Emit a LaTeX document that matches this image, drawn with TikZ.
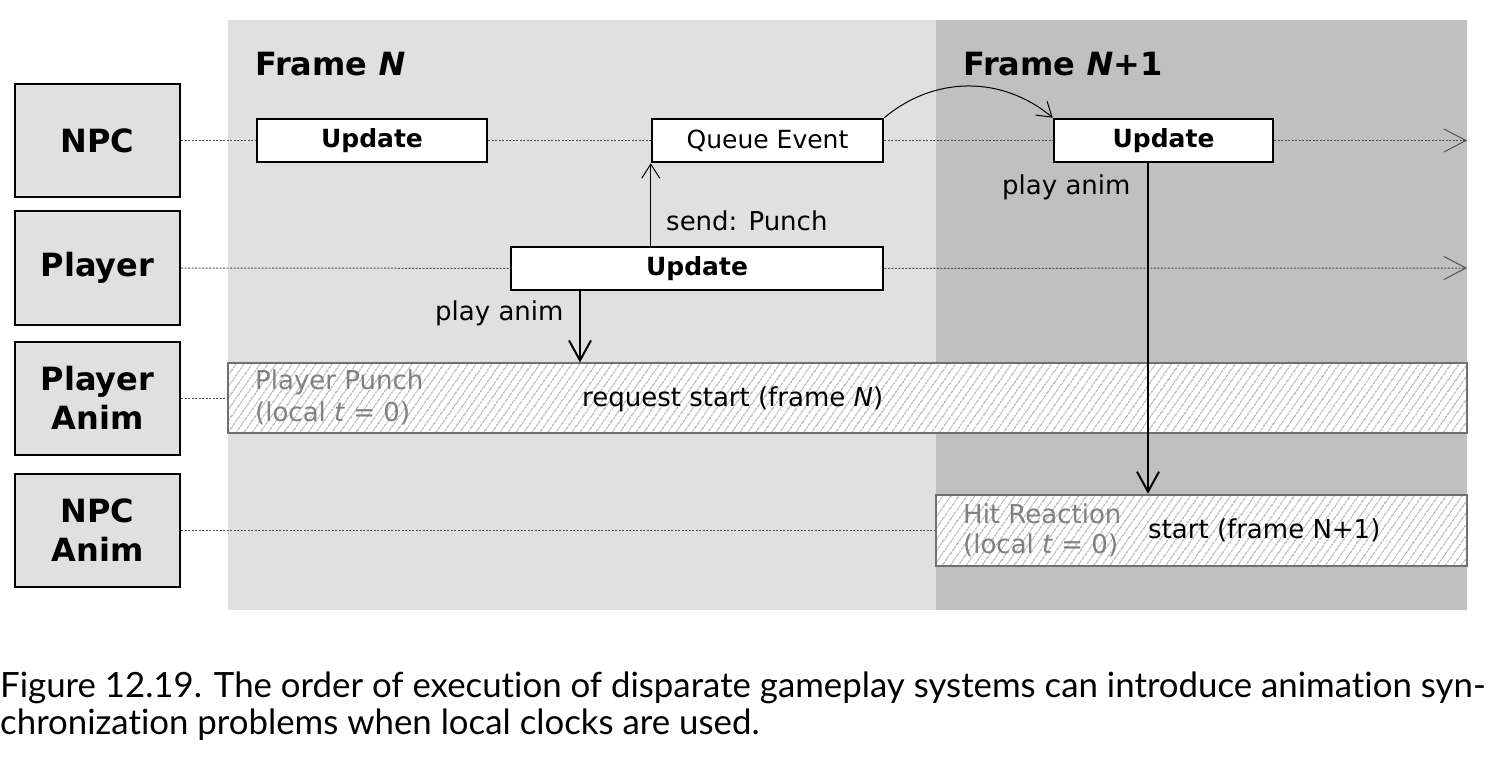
\documentclass[tikz,border=0pt]{standalone}
\usepackage{fontspec}
\setmainfont{DejaVu Sans}
\newfontfamily\capfont[Ligatures=NoCommon]{Lato}
\usetikzlibrary{arrows.meta,patterns.meta}

\definecolor{frameA}{RGB}{224,224,224}
\definecolor{frameB}{RGB}{192,192,192}
\definecolor{animtxt}{RGB}{128,128,128}
\definecolor{animedge}{RGB}{112,112,112}
\definecolor{hatch}{RGB}{175,175,175}
\definecolor{laneln}{RGB}{80,80,80}

\tikzset{
	lane/.style={draw,line width=2pt,fill=frameA,minimum width=165pt,minimum height=113pt,inner sep=0pt,align=center,font=\bfseries\fontsize{32}{39}\selectfont},
	ev/.style={draw,line width=2.5pt,fill=white,minimum height=43pt,inner sep=0pt,font=\bfseries\fontsize{25}{30}\selectfont},
	bar/.style={draw=animedge,line width=2.5pt,preaction={fill=white},pattern={Lines[angle=55,distance=6.5pt,line width=1pt]},pattern color=hatch,minimum height=70pt,inner sep=0pt},
	lbl/.style={anchor=base west,inner sep=0pt,font=\fontsize{26}{31}\selectfont},
	animlbl/.style={lbl,text=animtxt},
	frm/.style={anchor=base west,inner sep=0pt,font=\bfseries\fontsize{32}{38}\selectfont},
	laneline/.style={laneln,line width=1pt,dash pattern=on 2pt off 1.5pt},
	laneend/.style={laneline,-{Straight Barb[length=22pt,width=23pt]}},
	msg/.style={line width=1pt,-{Straight Barb[length=14pt,width=18pt]}},
	play/.style={line width=2pt,-{Straight Barb[length=20pt,width=22pt]}},
	capt/.style={anchor=base west,inner sep=0pt,font=\capfont\fontsize{34.8}{37}\selectfont}
}

\begin{document}
\begin{tikzpicture}[x=1pt,y=-1pt]
					\useasboundingbox (0,0) rectangle (1503,759);
					
					% Frame backgrounds
					\fill[frameA] (228,20) rectangle (936,610);
					\fill[frameB] (936,20) rectangle (1467,610);
					\node[frm] (fN) at (255,76) {Frame \textit{N}};
					\node[frm] (fN1) at (963,76) {Frame \textit{N}+1};
					
					% Lane labels
					\node[lane] (npc) at (97.5,140.5) {NPC};
					\node[lane] (player) at (97.5,268) {Player};
					\node[lane] (panim) at (97.5,398) {Player\\Anim};
					\node[lane] (nanim) at (97.5,530) {NPC\\Anim};
					
					% Update boxes
					\node[ev,minimum width=230pt] (npcupd) at (372,140.5) {Update};
					\node[ev,minimum width=231pt,font=\fontsize{25}{30}\selectfont] (queue) at (767.5,140.5) {Queue Event};
					\node[ev,minimum width=219pt] (npcupd2) at (1163.5,140.5) {Update};
					\node[ev,minimum width=372pt] (plupd) at (697,268.5) {Update};
					
					% Animation bars
					\node[bar,minimum width=1239pt] (punch) at (847.5,398) {};
					\node[bar,minimum width=531pt,minimum height=71pt] (hit) at (1201.5,530.5) {};
					\node[animlbl] (punchA) at (255,389) {Player Punch};
					\node[animlbl] (punchB) at (255,421) {(local \textit{t} = 0)};
					\node[animlbl] (hitA) at (963,523) {Hit Reaction};
					\node[animlbl] (hitB) at (963,553) {(local \textit{t} = 0)};
					\node[lbl] (req) at (582,406) {request start (frame \textit{N})};
					\node[lbl] (strt) at (1148,538) {start (frame N+1)};
					
					% Lane lines
					\coordinate (npcend) at (1467,140.5);
					\coordinate (plend) at (1467,268);
					\draw[laneline] (npc) -- (npcupd);
					\draw[laneline] (npcupd) -- (queue);
					\draw[laneline] (queue) -- (npcupd2);
					\draw[laneend] (npcupd2) -- (npcend);
					\draw[laneline] (player) -- (plupd);
					\draw[laneend] (plupd) -- (plend);
					\draw[laneline] (panim) -- (punch);
					\draw[laneline] (nanim) -- (nanim -| hit.west);
					
					% Messages
					\draw[msg] (queue.west |- plupd.north) -- (queue.south west);
					\node[lbl] (send) at (666,230) {send: Punch};
					\draw[msg] (queue.north east) to[out=40,in=140] (npcupd2.north west);
					
					% Play anim
					\coordinate (pa) at (580,0);
					\coordinate (ha) at (1148,0);
					\draw[play] (pa |- plupd.south) -- (pa |- punch.north);
					\node[lbl] (play1) at (435,320) {play anim};
					\draw[play] (ha |- npcupd2.south) -- (ha |- hit.north);
					\node[lbl] (play2) at (1002,195) {play anim};
					
					% Caption
					\node[capt] (cap1) at (0,697) {Figure 12.19. The order of execution of disparate gameplay systems can introduce animation syn-};
					\node[capt] (cap2) at (0,734) {chronization problems when local clocks are used.};
				\end{tikzpicture}
\end{document}
